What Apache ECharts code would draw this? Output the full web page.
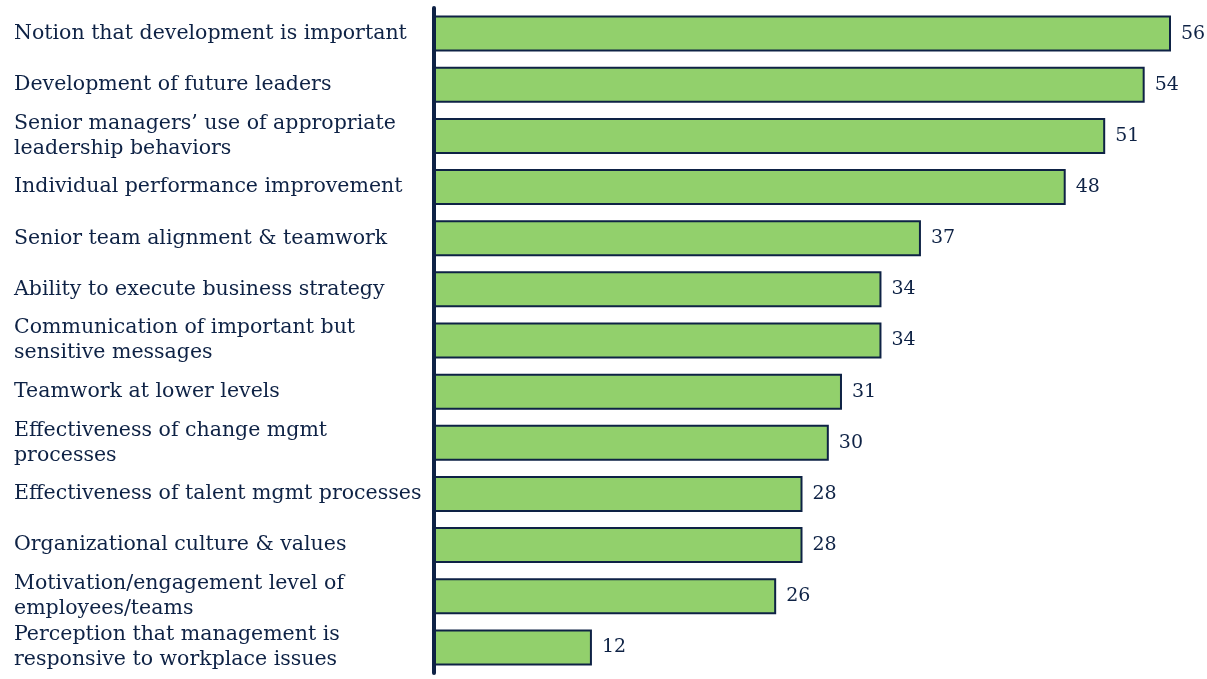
<!DOCTYPE html>
<html><head><meta charset="utf-8">
<script src="https://cdn.jsdelivr.net/npm/echarts@6/dist/echarts.min.js"></script>
<style>html,body{margin:0;padding:0;background:#fff}#c{width:1207px;height:679px}</style>
</head><body><div id="c"></div>
<script>
const categories = [
  "Notion that development is important",
  "Development of future leaders",
  "Senior managers\u2019 use of appropriate\nleadership behaviors",
  "Individual performance improvement",
  "Senior team alignment & teamwork",
  "Ability to execute business strategy",
  "Communication of important but\nsensitive messages",
  "Teamwork at lower levels",
  "Effectiveness of change mgmt\nprocesses",
  "Effectiveness of talent mgmt processes",
  "Organizational culture & values",
  "Motivation/engagement level of\nemployees/teams",
  "Perception that management is\nresponsive to workplace issues"
];
const values = [56, 54, 51, 48, 37, 34, 34, 31, 30, 28, 28, 26, 12];

const navy = '#0E2245';
const chart = echarts.init(document.getElementById('c'), null, {renderer: 'canvas'});
chart.setOption({
  animation: false,
  grid: {left: 434, right: 36, top: 8, bottom: 6},
  xAxis: {type: 'value', min: 0, max: 56, show: false},
  yAxis: {
    type: 'category', data: categories, inverse: true,
    axisLine: {show: true, lineStyle: {color: navy, width: 4}},
    axisTick: {show: false},
    axisLabel: {
      align: 'left', margin: 420, color: navy,
      fontFamily: 'DejaVu Serif', fontSize: 20.5, lineHeight: 25
    }
  },
  series: [{
    type: 'bar', data: values, barWidth: 36,
    itemStyle: {color: '#92D06C', borderColor: navy, borderWidth: 2},
    label: {show: true, position: 'right', distance: 10, color: navy,
      fontFamily: 'DejaVu Serif', fontSize: 19}
  }]
});
</script></body></html>
